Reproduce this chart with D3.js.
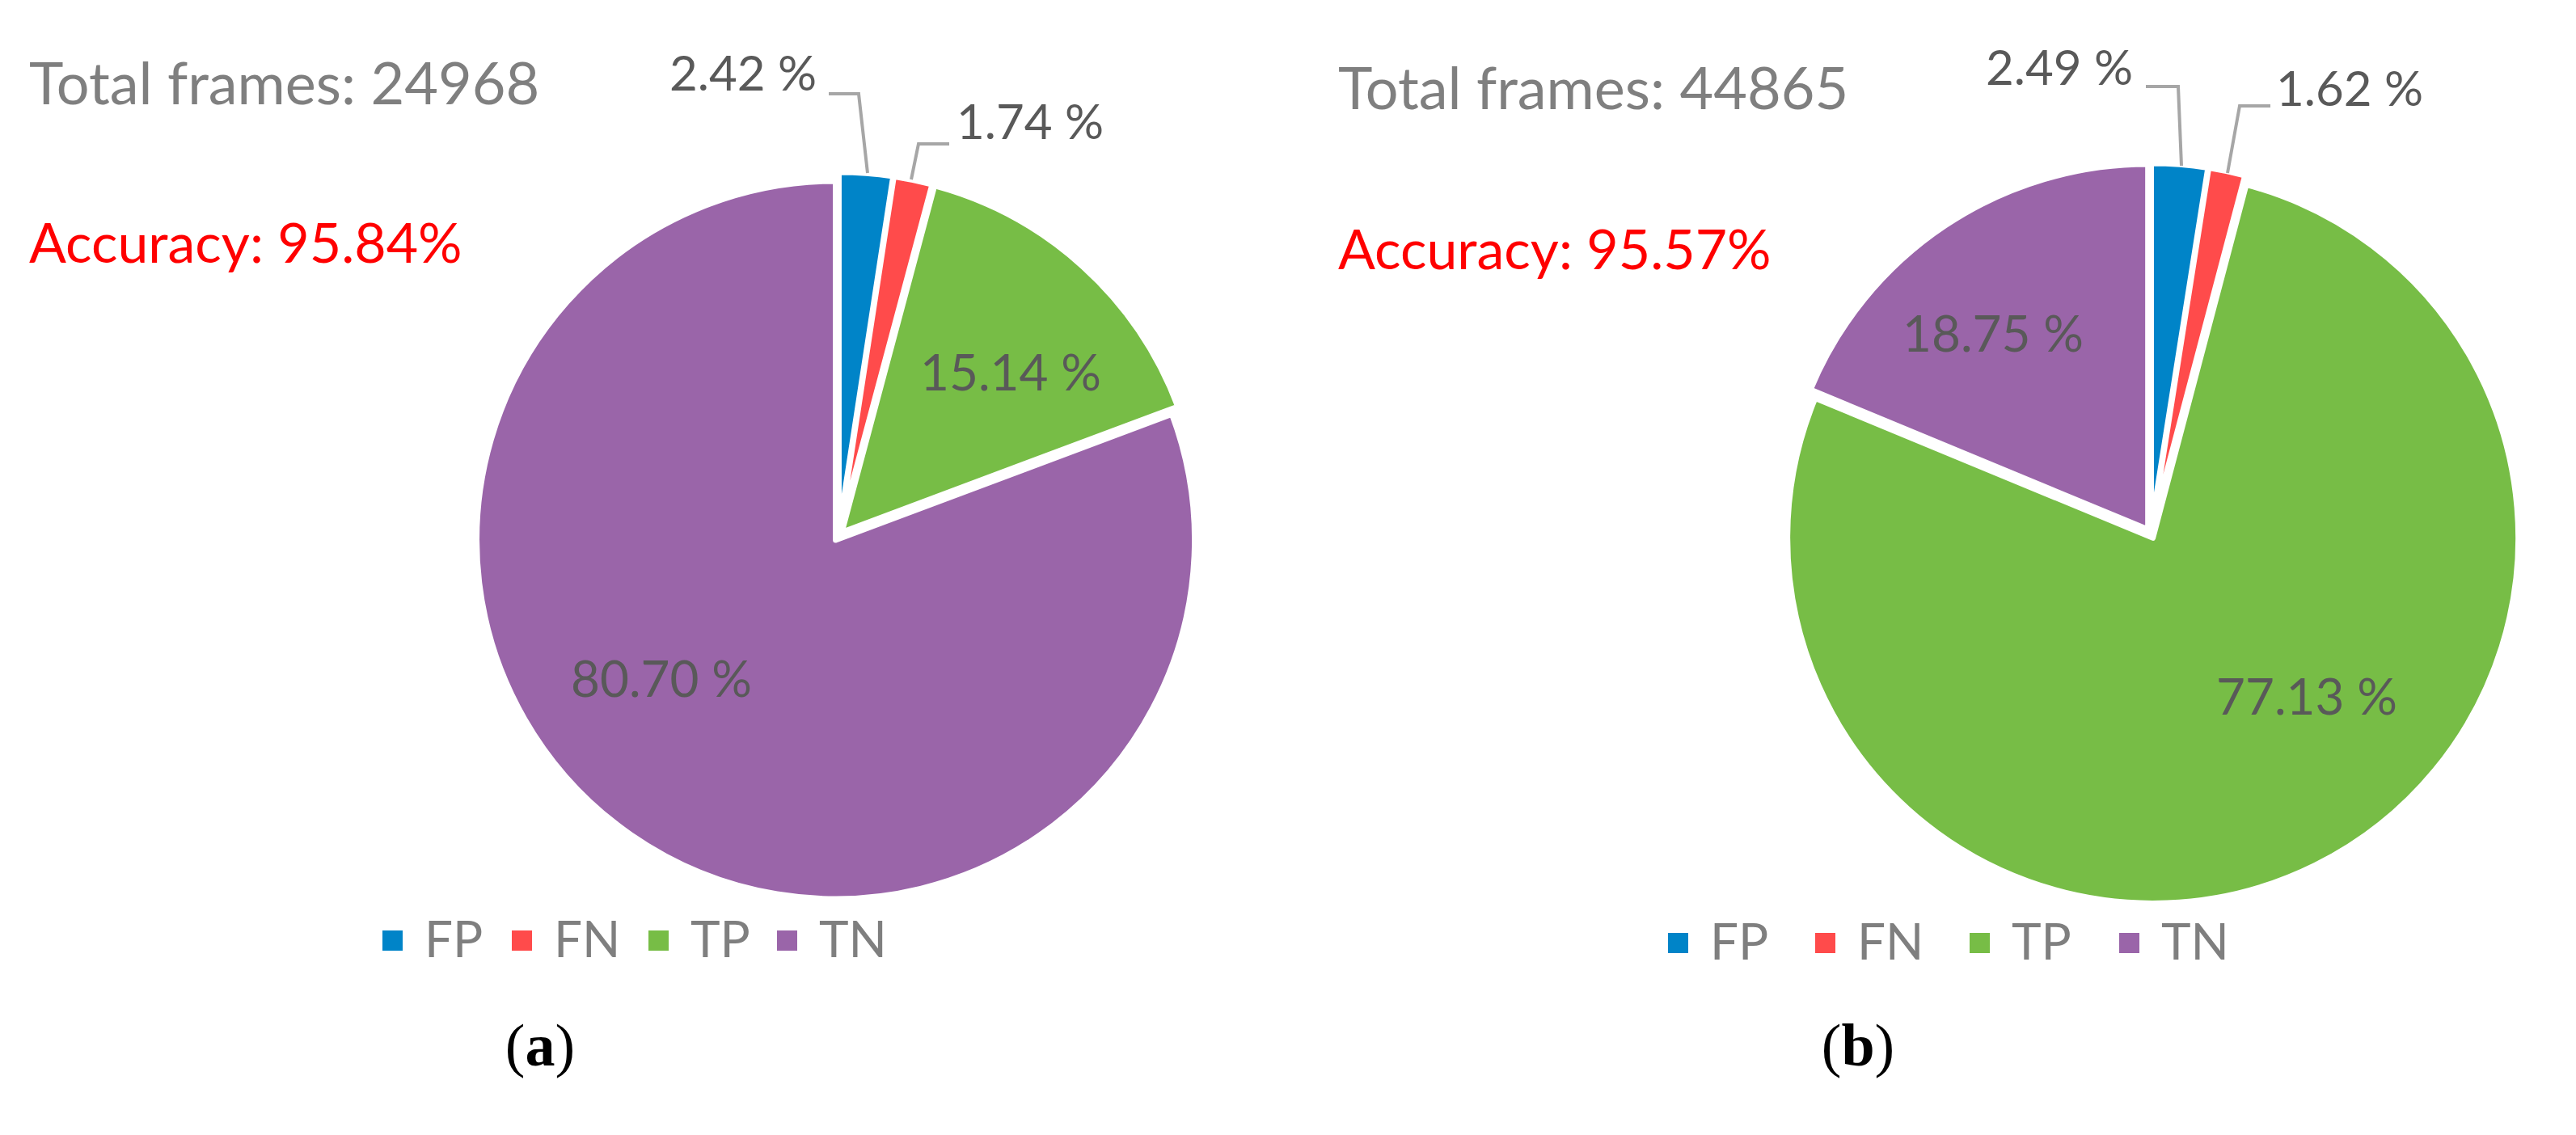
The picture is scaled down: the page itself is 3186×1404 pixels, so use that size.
<!DOCTYPE html>
<html>
<head>
<meta charset="utf-8">
<script src="https://cdn.jsdelivr.net/npm/d3@7"></script>
<style>
  body { margin: 0; background: #fff; }
  text { font-family: Lato, "Open Sans", sans-serif; }
</style>
</head>
<body>
<svg id="chart" width="3186" height="1404"></svg>
<script>
// data
var categories = ["FP", "FN", "TP", "TN"];
var colors = ["#0084c8", "#ff4b4b", "#77bd46", "#9a65a9"];
var valuesA = [2.42, 1.74, 15.14, 80.70];
var valuesB = [2.49, 1.62, 77.13, 18.75];
var totalsFrames = [24968, 44865];
var accuracies = ["95.84%", "95.57%"];
var panelTags = ["a", "b"];

// layout for each panel (positions only)
var panels = [
  { values: valuesA, cx: 1037, cy: 663, r: 444, tx: 36, totalY: 129, accY: 325,
    outer: [ { x: 1010, y: 112, anchor: "end", path: [[1025,116],[1062,116],[1073,214]] },
             { x: 1183, y: 172, anchor: "start", path: [[1174,178],[1136,178],[1127,222]] } ],
    inner: [null, null, { x: 1250, y: 483 }, { x: 818, y: 862 }],
    legend: [473, 633, 802, 961], legendY: 1184, tagX: 668 },
  { values: valuesB, cx: 2660, cy: 660, r: 452, tx: 1655, totalY: 135, accY: 333,
    outer: [ { x: 2638, y: 105, anchor: "end", path: [[2654,107],[2694,107],[2698,205]] },
             { x: 2815, y: 131, anchor: "start", path: [[2808,131],[2770,131],[2755,214]] } ],
    inner: [null, null, { x: 2853, y: 884 }, { x: 2465, y: 435 }],
    legend: [2063, 2245, 2436, 2621], legendY: 1187, tagX: 2298 }
];

var svg = d3.select("#chart");
var pie = d3.pie().sort(null);

panels.forEach(function(p, i) {
  var g = svg.append("g");
  var arc = d3.arc().innerRadius(0).outerRadius(p.r);
  var arcs = pie(p.values);

  g.selectAll("path.slice")
    .data(arcs)
    .enter().append("path")
    .attr("class", "slice")
    .attr("d", arc)
    .attr("fill", function(d, k) { return colors[k]; })
    .attr("stroke", "#fff")
    .attr("stroke-width", 7)
    .attr("stroke-linejoin", "round")
    .attr("transform", function(d) {
      var a = (d.startAngle + d.endAngle) / 2;
      var off = 6;
      return "translate(" + (p.cx + off * Math.sin(a)) + "," + (p.cy - off * Math.cos(a)) + ")";
    });

  // outer labels with leader lines (small slices)
  p.outer.forEach(function(o, k) {
    g.append("path")
      .attr("d", d3.line()(o.path))
      .attr("fill", "none").attr("stroke", "#a6a6a6").attr("stroke-width", 4);
    g.append("text")
      .attr("x", o.x).attr("y", o.y)
      .attr("text-anchor", o.anchor)
      .attr("font-size", 60).attr("fill", "#595959")
      .text(p.values[k].toFixed(2) + " %");
  });

  // inner labels
  p.inner.forEach(function(o, k) {
    if (!o) return;
    g.append("text")
      .attr("x", o.x).attr("y", o.y)
      .attr("text-anchor", "middle")
      .attr("font-size", 62).attr("fill", "#595959")
      .text(p.values[k].toFixed(2) + " %");
  });

  g.append("text")
    .attr("x", p.tx).attr("y", p.totalY)
    .attr("font-size", 72).attr("fill", "#7f7f7f")
    .text("Total frames: " + totalsFrames[i]);

  g.append("text")
    .attr("x", p.tx).attr("y", p.accY)
    .attr("font-size", 68).attr("fill", "#ff0000")
    .text("Accuracy: " + accuracies[i]);

  // legend
  categories.forEach(function(c, k) {
    g.append("rect")
      .attr("x", p.legend[k]).attr("y", p.legendY - 33)
      .attr("width", 25).attr("height", 25)
      .attr("fill", colors[k]);
    g.append("text")
      .attr("x", p.legend[k] + 52).attr("y", p.legendY)
      .attr("font-size", 62).attr("fill", "#7f7f7f")
      .text(c);
  });

  var tag = g.append("text")
    .attr("x", p.tagX).attr("y", 1318)
    .attr("text-anchor", "middle")
    .attr("font-size", 74).attr("fill", "#000")
    .style("font-family", "'Liberation Serif', serif");
  tag.append("tspan").text("(");
  tag.append("tspan").attr("font-weight", "bold").text(panelTags[i]);
  tag.append("tspan").text(")");
});
</script>
</body>
</html>
